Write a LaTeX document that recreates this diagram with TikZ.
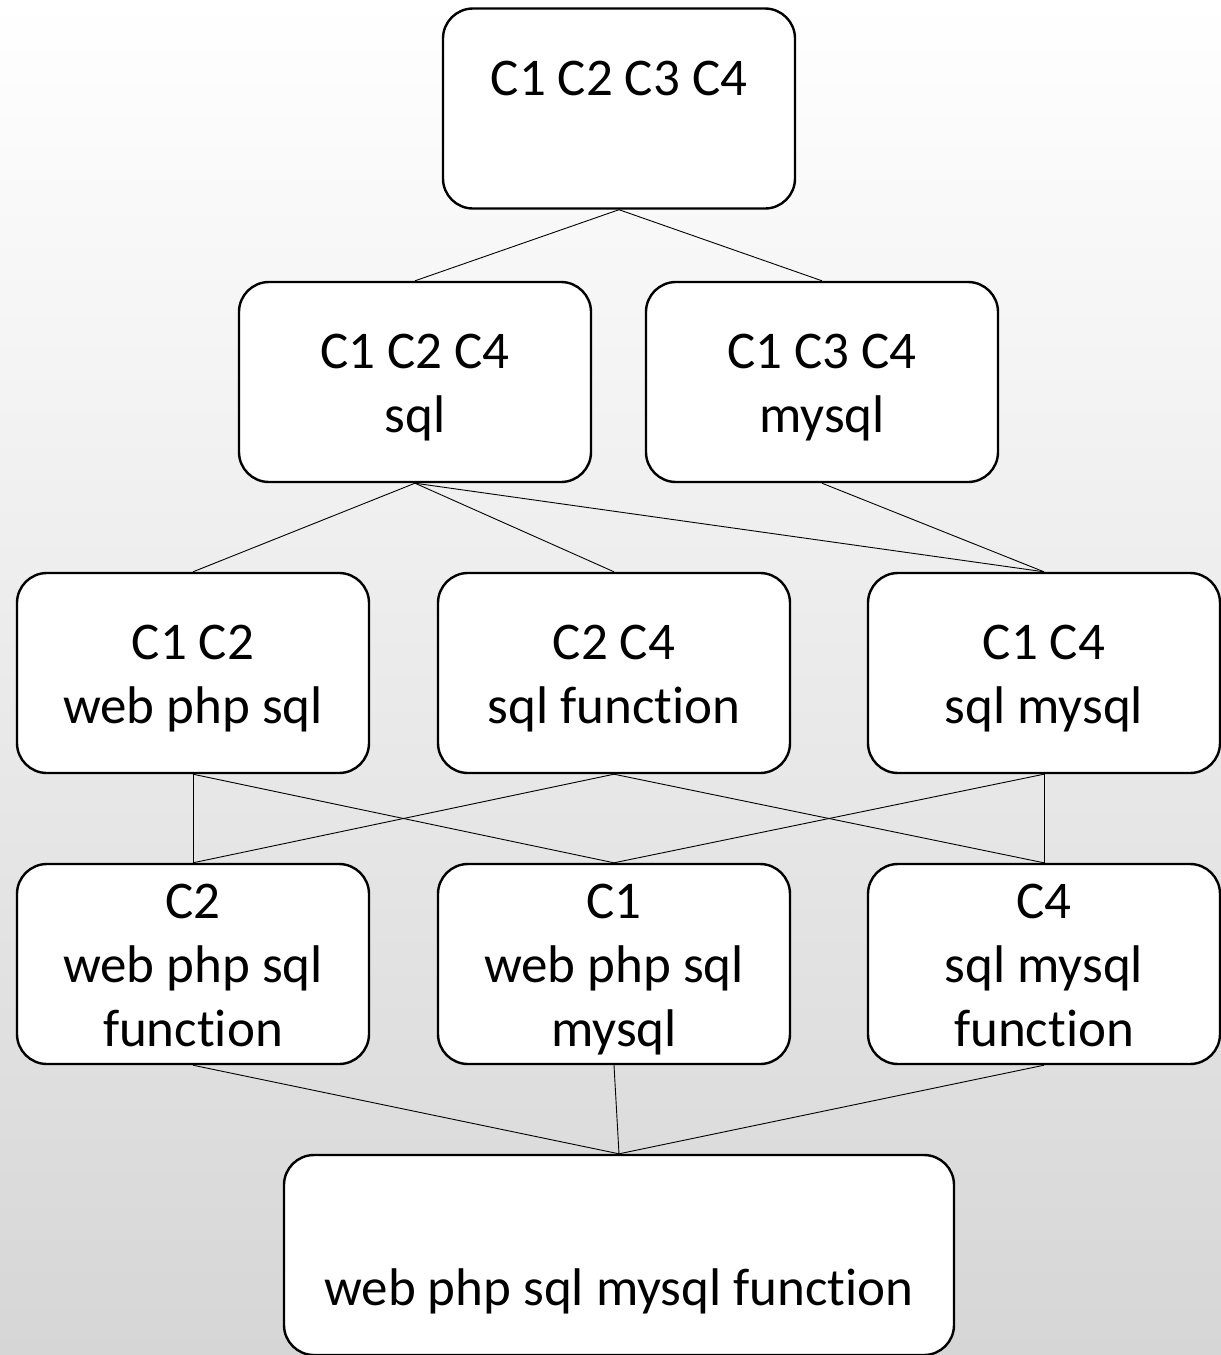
\documentclass[tikz,border=0pt]{standalone}
\usepackage{fontspec}
\setmainfont{Carlito}[Ligatures=NoCommon]
\definecolor{bgbot}{RGB}{214,214,214}
\newcommand\lnstrut{\rule[-13.5pt]{0pt}{64pt}}
\begin{document}
\begin{tikzpicture}[x=1pt,y=-1pt,
  box/.style={draw=black, line width=2.4pt, fill=white, rounded corners=30pt,
    minimum width=352pt, minimum height=200pt, inner sep=0pt, align=center,
    font=\fontsize{53}{64}\selectfont},
  link/.style={draw=black, line width=0.9pt}]
\shade[top color=white, bottom color=bgbot] (0,0) rectangle (1221,1355);
\useasboundingbox (0,0) rectangle (1221,1355);
\node[box] (top) at (619,108.5) {\lnstrut C1 C2 C3 C4\\\lnstrut};
\node[box] (a) at (415,382) {\lnstrut C1 C2 C4\\\lnstrut sql};
\node[box] (b) at (822,382) {\lnstrut C1 C3 C4\\\lnstrut mysql};
\node[box] (c12) at (193,673) {\lnstrut C1 C2\\\lnstrut web php sql};
\node[box] (c24) at (614,673) {\lnstrut C2 C4\\\lnstrut sql function};
\node[box] (c14) at (1044,673) {\lnstrut C1 C4\\\lnstrut sql mysql};
\node[box] (c2) at (193,964) {\lnstrut C2\\\lnstrut web php sql\\\lnstrut function};
\node[box] (c1) at (614,964) {\lnstrut C1\\\lnstrut web php sql\\\lnstrut mysql};
\node[box] (c4) at (1044,964) {\lnstrut C4\\\lnstrut sql mysql\\\lnstrut function};
\node[box, minimum width=670pt] (bot) at (619,1255) {\lnstrut\\\lnstrut web php sql mysql function};
\draw[link] (top.south) -- (a.north);
\draw[link] (top.south) -- (b.north);
\draw[link] (a.south) -- (c12.north);
\draw[link] (a.south) -- (c24.north);
\draw[link] (a.south) -- (c14.north);
\draw[link] (b.south) -- (c14.north);
\draw[link] (c12.south) -- (c2.north);
\draw[link] (c12.south) -- (c1.north);
\draw[link] (c24.south) -- (c2.north);
\draw[link] (c24.south) -- (c4.north);
\draw[link] (c14.south) -- (c1.north);
\draw[link] (c14.south) -- (c4.north);
\draw[link] (c2.south) -- (bot.north);
\draw[link] (c1.south) -- (bot.north);
\draw[link] (c4.south) -- (bot.north);
\end{tikzpicture}
\end{document}
